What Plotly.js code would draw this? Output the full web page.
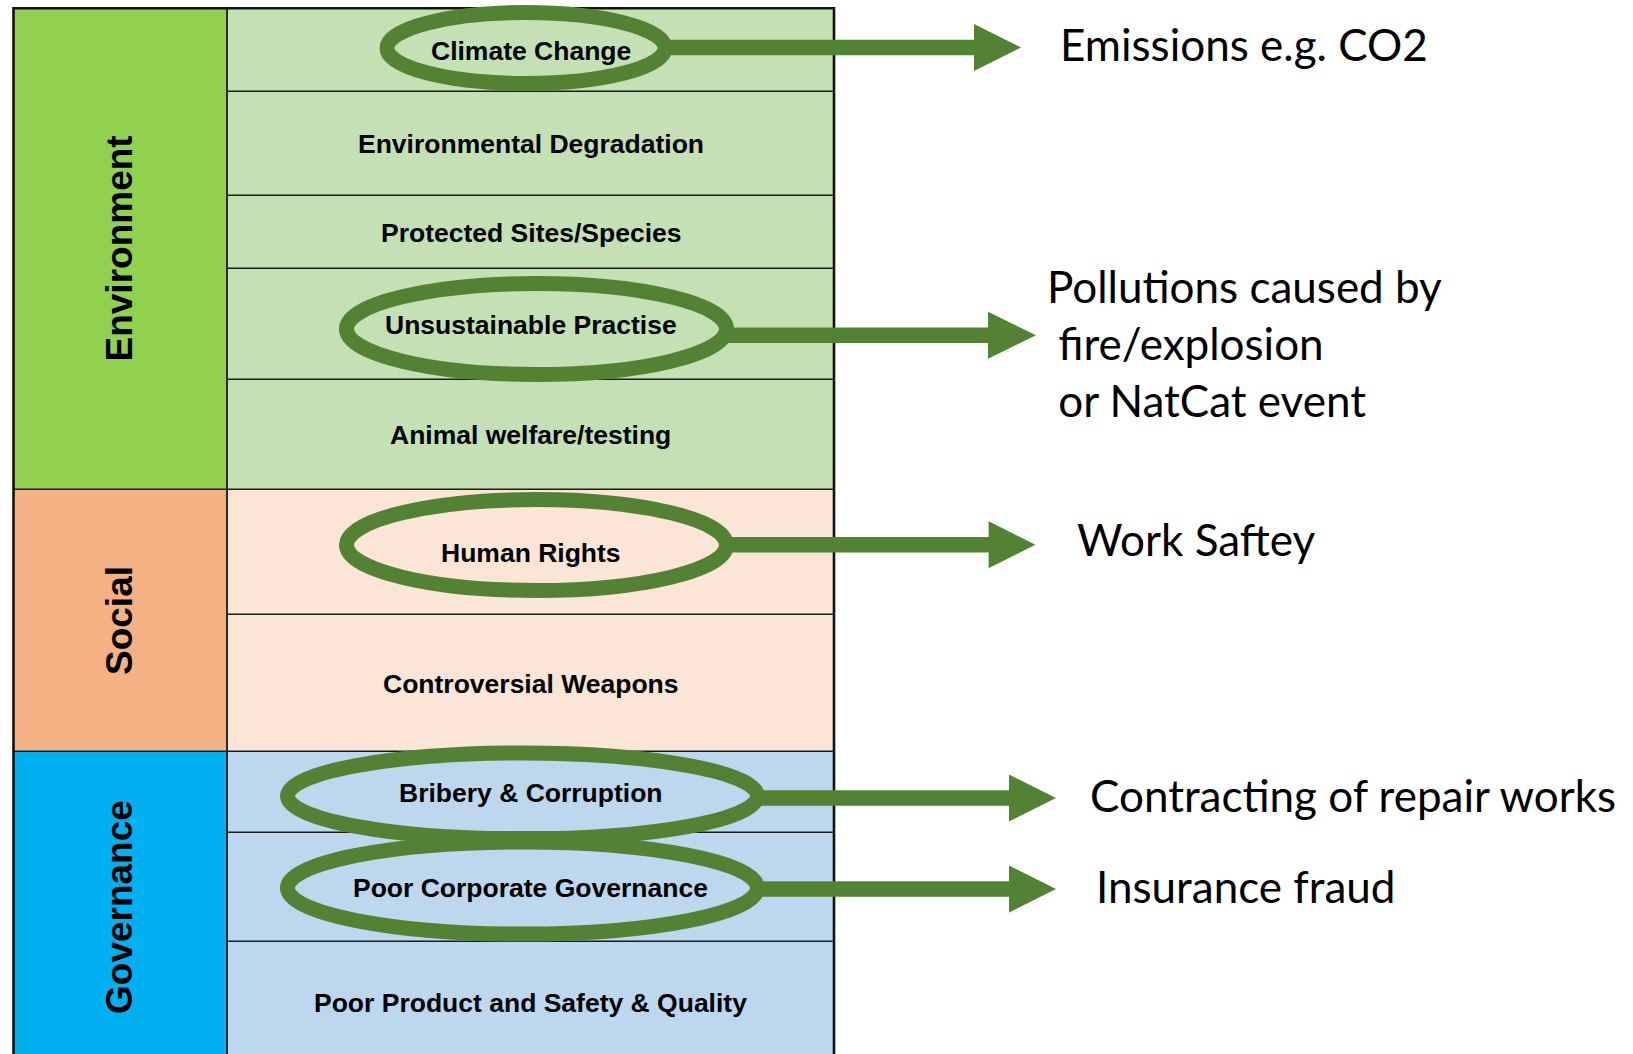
<!DOCTYPE html>
<html>
<head>
<meta charset="utf-8">
<script src="https://cdn.plot.ly/plotly-3.0.1.min.js"></script>
<style>
  html, body { margin: 0; padding: 0; background: #ffffff; overflow: hidden; }
  #chart { width: 1633px; height: 1054px; }
</style>
</head>
<body>
<div id="chart"></div>
<script>
// ================= DATA =================
const categories = ['Environment', 'Social', 'Governance'];

const issues = [
  'Climate Change',
  'Environmental Degradation',
  'Protected Sites/Species',
  'Unsustainable Practise',
  'Animal welfare/testing',
  'Human Rights',
  'Controversial Weapons',
  'Bribery & Corruption',
  'Poor Corporate Governance',
  'Poor Product and Safety & Quality'
];

const issueCategory = [
  'Environment', 'Environment', 'Environment', 'Environment', 'Environment',
  'Social', 'Social',
  'Governance', 'Governance', 'Governance'
];

// relative row heights
const issueRowSize = [83, 104, 73, 111, 110, 125, 137, 81, 109, 122];

const highlightedIssues = [
  'Climate Change',
  'Unsustainable Practise',
  'Human Rights',
  'Bribery & Corruption',
  'Poor Corporate Governance'
];

const consequences = [
  'Emissions e.g. CO2',
  'Pollutions caused by<br>\u00a0fire/explosion<br>\u00a0or NatCat event',
  'Work Saftey',
  'Contracting of repair works',
  'Insurance fraud'
];

// ================= LAYOUT / STYLE =================
const W = 1633, H = 1054;
const TABLE_TOP = 8.3;
const COL_LEFT = 13.5, COL_SPLIT = 227, COL_RIGHT = 834;
const CAT_LABEL_X = 119.7;
const catFill = { Environment: '#92D050', Social: '#F4B183', Governance: '#00B0F0' };
const rowFill = { Environment: '#C5E0B4', Social: '#FBE5D6', Governance: '#BDD7EE' };
const accent = '#548235';
const lineCol = '#1c1c1c';
const OVAL_W = 15, SHAFT_HALF = 7.75, HEAD_HALF = 23.5;
const TABLE_FONT = { family: 'Liberation Sans, Arial, sans-serif', size: 26.5, color: '#000000', weight: 'bold' };
const CAT_FONT = { family: 'Liberation Sans, Arial, sans-serif', size: 37, color: '#000000', weight: 'bold' };
const NOTE_FONT = { family: 'Lato, Carlito, Calibri, sans-serif', size: 44, color: '#000000' };

// geometry of each highlight (same order as highlightedIssues)
const ovalSpec = [
  { cx: 526,   dy: -1.8, rx: 139, ry: 35.5, arrowDy: -2.3, headBase: 974,   headTip: 1021,   noteX: 1060,  noteDy: -2 },
  { cx: 536.5, dy: 5.2,  rx: 190, ry: 45.5, arrowDy: 11.5, headBase: 988,   headTip: 1036,   noteX: 1046.5, noteDy: 8.7 },
  { cx: 536.5, dy: -6.8, rx: 190, ry: 45.5, arrowDy: -7.1, headBase: 988.6, headTip: 1035.4, noteX: 1077,  noteDy: -4.7 },
  { cx: 522.5, dy: 4.2,  rx: 235, ry: 43,   arrowDy: 6.2,  headBase: 1009,  headTip: 1056,   noteX: 1090,  noteDy: -2 },
  { cx: 522.5, dy: 1.2,  rx: 235, ry: 46,   arrowDy: 2.2,  headBase: 1009,  headTip: 1056,   noteX: 1096,  noteDy: -1.6 }
];

// ================= BUILD =================
const rowTop = [], rowBot = [];
let acc = TABLE_TOP;
issueRowSize.forEach((s, i) => { rowTop.push(acc); acc += s; rowBot.push(acc); });
const tableBottom = acc;
const rowMid = i => (rowTop[i] + rowBot[i]) / 2;

const catTop = {}, catBot = {};
categories.forEach(c => {
  const idx = issueCategory.map((v, i) => v === c ? i : -1).filter(i => i >= 0);
  catTop[c] = rowTop[idx[0]];
  catBot[c] = rowBot[idx[idx.length - 1]];
});

const shapes = [];
const annotations = [];

// category column cells
categories.forEach(c => {
  shapes.push({ type: 'rect', xref: 'x', yref: 'y', x0: COL_LEFT, x1: COL_SPLIT, y0: catTop[c], y1: catBot[c],
    fillcolor: catFill[c], line: { width: 0 } });
});
// issue cells
issues.forEach((name, i) => {
  shapes.push({ type: 'rect', xref: 'x', yref: 'y', x0: COL_SPLIT, x1: COL_RIGHT, y0: rowTop[i], y1: rowBot[i],
    fillcolor: rowFill[issueCategory[i]], line: { width: 0 } });
});
// row separators within a category
issues.forEach((name, i) => {
  if (i > 0 && issueCategory[i] === issueCategory[i - 1]) {
    shapes.push({ type: 'line', xref: 'x', yref: 'y', x0: COL_SPLIT, x1: COL_RIGHT, y0: rowTop[i], y1: rowTop[i],
      line: { color: lineCol, width: 1.5 } });
  }
});
// category separators
categories.forEach((c, k) => {
  if (k > 0) {
    shapes.push({ type: 'line', xref: 'x', yref: 'y', x0: COL_LEFT, x1: COL_RIGHT, y0: catTop[c], y1: catTop[c],
      line: { color: lineCol, width: 1.6 } });
  }
});
// column divider
shapes.push({ type: 'line', xref: 'x', yref: 'y', x0: COL_SPLIT, x1: COL_SPLIT, y0: TABLE_TOP, y1: tableBottom,
  line: { color: '#2a2a2a', width: 2 } });
// outer border
shapes.push({ type: 'rect', xref: 'x', yref: 'y', x0: COL_LEFT, x1: COL_RIGHT, y0: TABLE_TOP, y1: tableBottom,
  fillcolor: 'rgba(0,0,0,0)', line: { color: '#111111', width: 2.6 } });

// ovals + arrows + notes
highlightedIssues.forEach((name, k) => {
  const i = issues.indexOf(name);
  const g = ovalSpec[k];
  const cy = rowMid(i) + g.dy;
  shapes.push({ type: 'circle', xref: 'x', yref: 'y',
    x0: g.cx - g.rx, x1: g.cx + g.rx, y0: cy - g.ry, y1: cy + g.ry,
    fillcolor: 'rgba(0,0,0,0)', line: { color: accent, width: OVAL_W } });
  const ay = rowMid(i) + g.arrowDy;
  const xs = g.cx + g.rx - 2;
  const path = 'M ' + xs + ',' + (ay - SHAFT_HALF) +
    ' L ' + g.headBase + ',' + (ay - SHAFT_HALF) +
    ' L ' + g.headBase + ',' + (ay - HEAD_HALF) +
    ' L ' + g.headTip + ',' + ay +
    ' L ' + g.headBase + ',' + (ay + HEAD_HALF) +
    ' L ' + g.headBase + ',' + (ay + SHAFT_HALF) +
    ' L ' + xs + ',' + (ay + SHAFT_HALF) + ' Z';
  shapes.push({ type: 'path', xref: 'x', yref: 'y', path: path, fillcolor: accent, line: { width: 0 } });
  annotations.push({ xref: 'x', yref: 'y', x: g.noteX, y: ay + g.noteDy - 1.2, text: consequences[k],
    showarrow: false, xanchor: 'left', yanchor: 'middle', align: 'left',
    borderpad: 0, borderwidth: 0, font: NOTE_FONT });
});

// issue labels
issues.forEach((name, i) => {
  annotations.push({ xref: 'x', yref: 'y', x: (COL_SPLIT + COL_RIGHT) / 2, y: rowMid(i) + 1, text: name,
    showarrow: false, xanchor: 'center', yanchor: 'middle', borderpad: 0, borderwidth: 0, font: TABLE_FONT });
});
// category labels
categories.forEach(c => {
  annotations.push({ xref: 'x', yref: 'y', x: CAT_LABEL_X, y: (catTop[c] + catBot[c]) / 2, text: c,
    textangle: -90, showarrow: false, xanchor: 'center', yanchor: 'middle', borderpad: 0, borderwidth: 0, font: CAT_FONT });
});

const layout = {
  width: W, height: H,
  margin: { l: 0, r: 0, t: 0, b: 0, pad: 0 },
  paper_bgcolor: '#ffffff', plot_bgcolor: '#ffffff',
  showlegend: false,
  xaxis: { range: [0, W], visible: false, showgrid: false, zeroline: false, fixedrange: true },
  yaxis: { range: [H, 0], visible: false, showgrid: false, zeroline: false, fixedrange: true },
  shapes: shapes,
  annotations: annotations
};

Plotly.newPlot('chart', [], layout, { staticPlot: true, displayModeBar: false });
</script>
</body>
</html>
